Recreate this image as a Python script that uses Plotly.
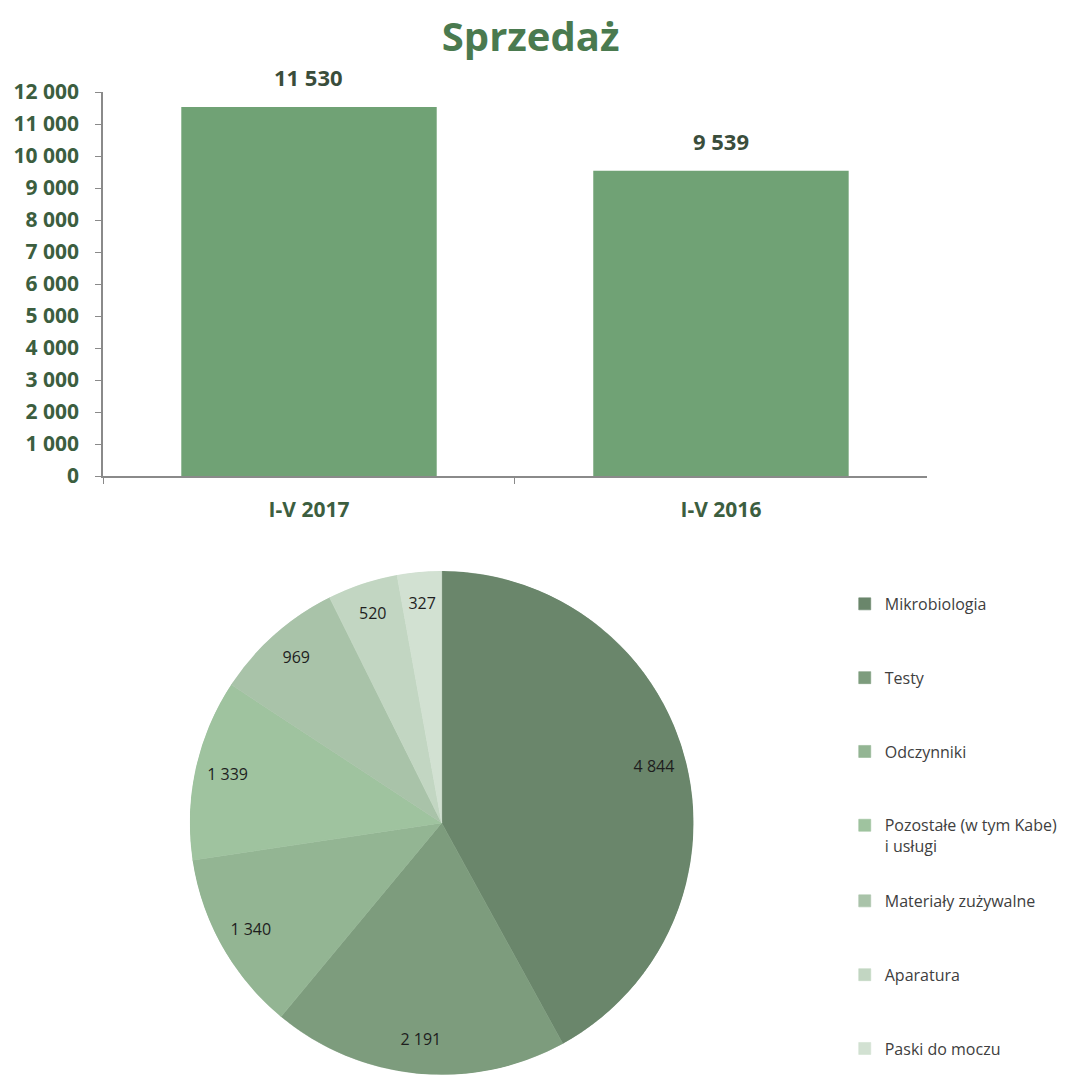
import numpy as np
import plotly.graph_objects as go

# ---- data ----
bar_categories = ["I-V 2017", "I-V 2016"]
bar_values = [11530, 9539]
y_ticks = list(range(0, 12001, 1000))

pie_labels = ["Mikrobiologia", "Testy", "Odczynniki",
              "Pozostałe (w tym Kabe)<br>i usługi", "Materiały zużywalne",
              "Aparatura", "Paski do moczu"]
pie_values = [4844, 2191, 1340, 1339, 969, 520, 327]
pie_colors = ["#6a866b", "#7d9c7d", "#93b593", "#9fc39f", "#a9c3a9", "#c2d6c2", "#d2e1d2"]

FONT = "Open Sans, sans-serif"
DARK_GREEN = "#3c5e3f"
PIE_DOMAIN = dict(x=[0.177, 0.647], y=[0.0, 0.469])


def fmt(v):
    return f"{v:,}".replace(",", " ")


fig = go.Figure()

fig.add_trace(go.Bar(
    x=bar_categories, y=bar_values,
    marker=dict(color="#70a275", line=dict(width=0)),
    showlegend=False, hoverinfo="x+y",
))

# bar value labels, anchored on the bars' data values
for c, v in zip(bar_categories, bar_values):
    fig.add_annotation(x=c, y=v, xref="x", yref="y", text=f"<b>{fmt(v)}</b>",
                       showarrow=False, yanchor="bottom", yshift=13,
                       font=dict(family=FONT, size=22, color="#3a4d3b"))

# pie slices drawn as polar bars (angle share of total)
vals = np.array(pie_values, dtype=float)
widths = vals / vals.sum() * 360
mids = np.cumsum(widths) - widths / 2
for i, (lab, col) in enumerate(zip(pie_labels, pie_colors)):
    fig.add_trace(go.Barpolar(
        r=[1], theta=[mids[i]], width=[widths[i]], base=0, name=lab,
        marker=dict(color=col, line=dict(color=col, width=0.6)),
        subplot="polar", legend="legend" if i < 4 else "legend2",
        legendgroup=lab, showlegend=True,
        hovertemplate=f"{lab}: {fmt(pie_values[i])}<extra></extra>",
    ))

# data labels near the rim
fig.add_trace(go.Scatterpolar(
    r=[0.87] * len(pie_values), theta=mids, mode="text",
    text=[fmt(v) for v in pie_values],
    textfont=dict(family=FONT, size=16, color="#1e1e1e"),
    subplot="polar", showlegend=False, hoverinfo="skip",
))

legend_common = dict(xanchor="left", yanchor="top", traceorder="grouped",
                     tracegroupgap=50, valign="top",
                     font=dict(family=FONT, size=16, color="#404040"),
                     itemwidth=30, bgcolor="rgba(0,0,0,0)")

fig.update_layout(
    width=1072, height=1075,
    margin=dict(l=0, r=0, t=0, b=0),
    paper_bgcolor="white", plot_bgcolor="white",
    separators=", ",
    bargap=0.38,
    title=dict(text="<b>Sprzedaż</b>", x=0.495, xanchor="center", y=0.966, yanchor="middle",
               font=dict(family=FONT, size=40, color="#4a7a4f")),
    xaxis=dict(domain=[0.0961, 0.8647], type="category", automargin=False,
               showline=True, linecolor="#8a8a8a", linewidth=1.5,
               ticks="outside", tickson="boundaries", ticklen=6, tickcolor="#8a8a8a",
               tickfont=dict(family=FONT, size=21, color=DARK_GREEN, weight="bold"),
               ticklabelstandoff=14, showgrid=False, zeroline=False),
    yaxis=dict(domain=[0.5572, 0.9144], range=[0, 12000], automargin=False,
               tickvals=y_ticks, tickformat=",",
               showline=True, linecolor="#8a8a8a", linewidth=1.5,
               ticks="outside", ticklen=6, tickcolor="#8a8a8a",
               tickfont=dict(family=FONT, size=21, color=DARK_GREEN, weight="bold"),
               ticklabelstandoff=12, showgrid=False, zeroline=False),
    polar=dict(domain=PIE_DOMAIN, bgcolor="rgba(0,0,0,0)", bargap=0, hole=0,
               radialaxis=dict(range=[0, 1], visible=False, showgrid=False),
               angularaxis=dict(direction="clockwise", rotation=90, visible=False,
                                showgrid=False)),
    legend=dict(x=0.788, y=0.454, **legend_common),
    legend2=dict(x=0.788, y=0.1777, **legend_common),
)

fig.write_html("out.html", config={"displayModeBar": False},
               post_script="document.body.style.margin='0';")
